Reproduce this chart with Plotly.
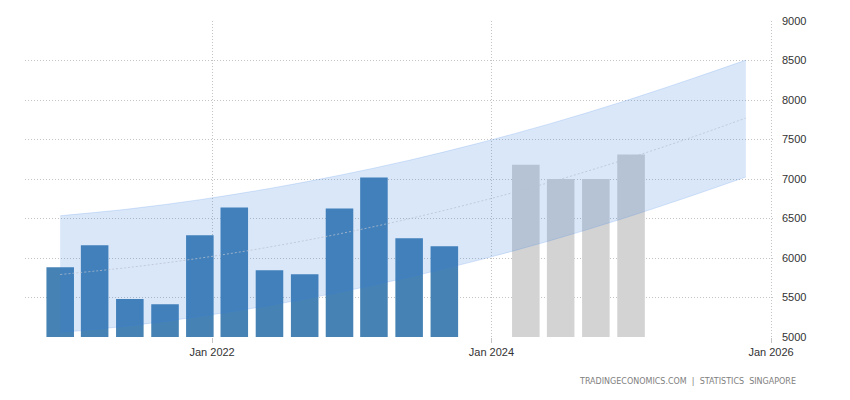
import plotly.graph_objects as go

# ---- data ----
actual_dates = ["2020-11-30", "2021-02-28", "2021-05-31", "2021-08-31",
                "2021-11-30", "2022-02-28", "2022-05-31", "2022-08-31",
                "2022-11-30", "2023-02-28", "2023-05-31", "2023-08-31"]
actual_values = [5883, 6161, 5480, 5416, 6287, 6640, 5845, 5795, 6628, 7019, 6249, 6148]

forecast_dates = ["2024-03-31", "2024-06-30", "2024-09-30", "2024-12-31"]
forecast_values = [7180, 7000, 7000, 7310]

band_dates = ["2020-11-30", "2021-05-31", "2021-11-30", "2022-05-31", "2022-11-30",
              "2023-05-31", "2023-11-30", "2024-05-31", "2024-11-30", "2025-05-31",
              "2025-10-27"]
trend_mid = [5791, 5882, 5998, 6139, 6306, 6497, 6714, 6956, 7224, 7515, 7772]
trend_upper = [6535, 6622, 6738, 6880, 7047, 7237, 7455, 7697, 7965, 8256, 8505]
trend_lower = [5057, 5142, 5260, 5399, 5566, 5757, 5974, 6216, 6484, 6775, 7025]

y_ticks = [5000, 5500, 6000, 6500, 7000, 7500, 8000, 8500, 9000]
x_range = ["2020-08-30", "2026-01-06"]
source_text = "TRADINGECONOMICS.COM  |  STATISTICS  SINGAPORE"

BAR_W = 72 * 86400000  # ms

fig = go.Figure()

fig.add_trace(go.Bar(
    x=actual_dates, y=actual_values, width=BAR_W,
    marker=dict(color="#4682B4", line=dict(width=0)),
    hoverinfo="x+y",
))
fig.add_trace(go.Bar(
    x=forecast_dates, y=forecast_values, width=BAR_W,
    marker=dict(color="#D3D3D3", line=dict(width=0)),
    hoverinfo="x+y",
))

band_fill = "rgba(44,122,222,0.18)"
edge = "rgba(60,130,230,0.18)"
fig.add_trace(go.Scatter(
    x=band_dates, y=trend_lower, mode="lines",
    line=dict(color=edge, width=1, shape="spline"),
    hoverinfo="skip",
))
fig.add_trace(go.Scatter(
    x=band_dates, y=trend_upper, mode="lines", fill="tonexty",
    fillcolor=band_fill,
    line=dict(color=edge, width=1, shape="spline"),
    hoverinfo="skip",
))
fig.add_trace(go.Scatter(
    x=band_dates, y=trend_mid, mode="lines",
    line=dict(color="rgba(185,192,205,0.75)", width=1, dash="2px,2px", shape="spline"),
    hoverinfo="skip",
))

grid = "#c4c4c4"
fig.update_layout(
    width=850, height=400,
    margin=dict(l=25, r=77, t=21, b=63),
    paper_bgcolor="white", plot_bgcolor="white",
    showlegend=False, barmode="overlay",
    font=dict(family="Liberation Sans, Arial, sans-serif", size=11, color="#333333"),
    xaxis=dict(
        type="date", range=x_range,
        tick0="2022-01-01", dtick="M24", tickformat="%b %Y",
        showgrid=True, gridcolor=grid, griddash="1px,2px", gridwidth=1,
        ticks="outside", ticklen=5, tickcolor=grid,
        showline=False, zeroline=False,
    ),
    yaxis=dict(
        range=[5000, 9000], side="right",
        tickvals=y_ticks, ticktext=[str(v) for v in y_ticks],
        showgrid=True, gridcolor=grid, griddash="1px,2px", gridwidth=1,
        ticks="", ticklabelstandoff=8,
        showline=False, zeroline=False,
    ),
    annotations=[dict(
        text=source_text, xref="paper", yref="paper",
        x=1.033, y=-0.142, xanchor="right", yanchor="middle",
        showarrow=False,
        font=dict(family="DejaVu Sans, sans-serif", size=8, color="#808080"),
    )],
)

fig.write_html("out.html")
